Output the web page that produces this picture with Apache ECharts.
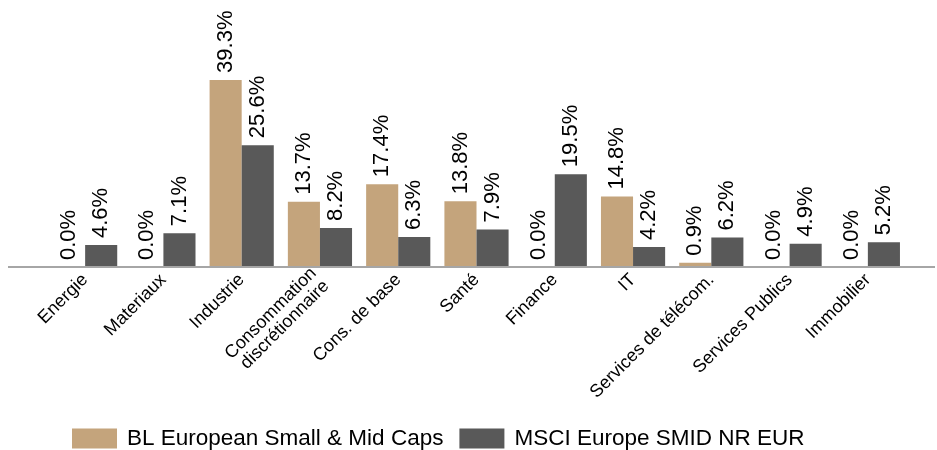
<!DOCTYPE html>
<html><head><meta charset="utf-8">
<script src="https://cdn.jsdelivr.net/npm/echarts@6/dist/echarts.min.js"></script>
<style>html,body{margin:0;padding:0;background:#fff}#c{width:937px;height:450px}</style>
</head><body><div id="c"></div>
<script>
const categories = ['Energie','Materiaux','Industrie','Consommation\ndiscrétionnaire','Cons. de base','Santé','Finance','IT','Services de télécom.','Services Publics','Immobilier'];
const blValues = [0.0, 0.0, 39.3, 13.7, 17.4, 13.8, 0.0, 14.8, 0.9, 0.0, 0.0];
const msciValues = [4.6, 7.1, 25.6, 8.2, 6.3, 7.9, 19.5, 4.2, 6.2, 4.9, 5.2];
const seriesNames = ['BL European Small & Mid Caps', 'MSCI Europe SMID NR EUR'];

const chart = echarts.init(document.getElementById('c'));
const FONT = 'Liberation Sans, Arial, sans-serif';
const labelCfg = {
  show: true, position: 'top', rotate: 90, align: 'left', verticalAlign: 'middle',
  distance: 7, fontSize: 22, color: '#000', fontFamily: FONT,
  formatter: p => p.value.toFixed(1) + '%'
};
chart.setOption({
  animation: false,
  textStyle: { fontFamily: FONT },
  graphic: [{ type: 'line', shape: { x1: 8, y1: 267, x2: 935, y2: 267 }, style: { stroke: '#a6a6a6', lineWidth: 2 }, z: 10 }],
  grid: { left: 46, right: 30, top: 76.6, bottom: 183 },
  legend: {
    left: 72, top: 427, itemWidth: 45, itemHeight: 20, itemGap: 16, icon: 'rect', padding: 0,
    textStyle: { fontSize: 22.5, color: '#000', fontFamily: FONT, padding: [0, 0, 0, 5] },
    data: seriesNames
  },
  xAxis: {
    type: 'category', data: categories,
    axisLine: { show: false }, axisTick: { show: false },
    axisLabel: { rotate: 45, fontSize: 18, color: '#000', fontFamily: FONT, margin: 10, interval: 0, lineHeight: 18 }
  },
  yAxis: { type: 'value', min: 0, max: 40, show: false, splitLine: { show: false } },
  series: [
    { name: seriesNames[0], type: 'bar', data: blValues, barGap: '0%', barCategoryGap: '18%',
      itemStyle: { color: '#C4A47C' }, label: labelCfg },
    { name: seriesNames[1], type: 'bar', data: msciValues, barGap: '0%', barCategoryGap: '18%',
      itemStyle: { color: '#595959' }, label: labelCfg }
  ]
});
</script></body></html>
